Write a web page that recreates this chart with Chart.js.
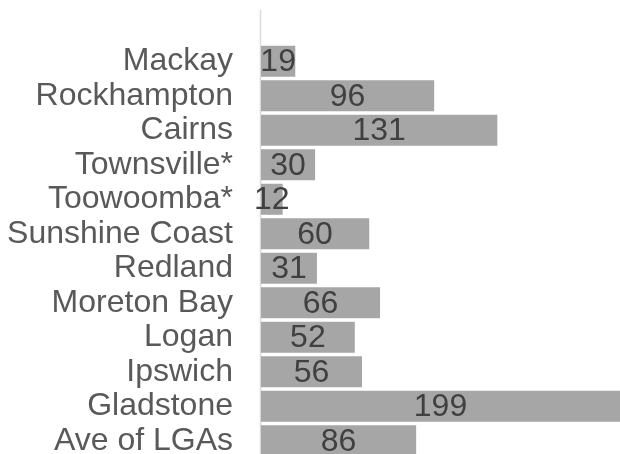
<!DOCTYPE html>
<html>
<head>
<meta charset="utf-8">
<script src="https://cdn.jsdelivr.net/npm/chart.js@4.4.1/dist/chart.umd.min.js"></script>
<style>
  html, body { margin: 0; padding: 0; overflow: hidden; background: #fff; }
  #chart { display: block; }
</style>
</head>
<body>
<canvas id="chart" width="620" height="458"></canvas>
<script>
const categories = ['Mackay', 'Rockhampton', 'Cairns', 'Townsville*', 'Toowoomba*', 'Sunshine Coast',
  'Redland', 'Moreton Bay', 'Logan', 'Ipswich', 'Gladstone', 'Ave of LGAs'];
const values = [19, 96, 131, 30, 12, 60, 31, 66, 52, 56, 199, 86];

// axis line that runs above the first bar, like the original
const axisLine = {
  id: 'axisLine',
  beforeDatasetsDraw(chart) {
    const ctx = chart.ctx;
    const x = chart.scales.x.left - 0.5;
    ctx.save();
    ctx.strokeStyle = '#d9d9d9';
    ctx.lineWidth = 1.5;
    ctx.beginPath();
    ctx.moveTo(x, 10);
    ctx.lineTo(x, chart.chartArea.bottom);
    ctx.stroke();
    ctx.restore();
  }
};

// value labels centred on each bar
const barLabels = {
  id: 'barLabels',
  afterDatasetsDraw(chart) {
    const ctx = chart.ctx;
    const meta = chart.getDatasetMeta(0);
    ctx.save();
    ctx.font = '32px "Liberation Sans", Arial, sans-serif';
    ctx.fillStyle = '#404040';
    ctx.textAlign = 'center';
    ctx.textBaseline = 'middle';
    meta.data.forEach((bar, i) => {
      const cx = (bar.base + bar.x) / 2;
      ctx.fillText(values[i], cx, bar.y + 1);
    });
    ctx.restore();
  }
};

new Chart(document.getElementById('chart'), {
  type: 'bar',
  data: {
    labels: categories,
    datasets: [{
      data: values,
      backgroundColor: '#a6a6a6',
      borderWidth: 0,
      categoryPercentage: 0.9,
      barPercentage: 1
    }]
  },
  options: {
    indexAxis: 'y',
    responsive: false,
    animation: false,
    layout: { padding: { top: 44, left: 0, right: 0, bottom: 0 } },
    scales: {
      x: {
        display: false,
        min: 0,
        max: 199
      },
      y: {
        grid: { display: false, drawTicks: false },
        border: { display: false },
        afterFit: scale => {
          scale.width = 261;
          scale.paddingTop = 0;
          scale.paddingBottom = 0;
        },
        ticks: {
          autoSkip: false,
          padding: 28,
          color: '#595959',
          font: { family: '"Liberation Sans", Arial, sans-serif', size: 32 }
        }
      }
    },
    plugins: {
      legend: { display: false },
      tooltip: { enabled: false }
    }
  },
  plugins: [axisLine, barLabels]
});
</script>
</body>
</html>
